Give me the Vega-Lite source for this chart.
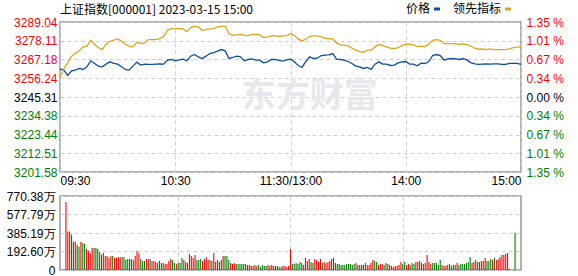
{
  "$schema": "https://vega.github.io/schema/vega-lite/v6.json",
  "background": "white",
  "padding": {"left": 5, "top": 2, "right": 0, "bottom": 0},
  "spacing": 24,
  "bounds": "flush",
  "datasets": {
    "line": [
      {"m":0,"p":3261.76,"l":3256.73},{"m":2,"p":3260.99,"l":3261.95},{"m":4,"p":3257.89,"l":3265.24},{"m":6,"p":3260.60,"l":3269.11},
      {"m":8,"p":3260.99,"l":3270.66},{"m":10,"p":3261.95,"l":3272.21},{"m":12,"p":3261.37,"l":3274.53},{"m":14,"p":3262.92,"l":3274.92},
      {"m":16,"p":3266.40,"l":3278.40},{"m":18,"p":3264.86,"l":3276.08},{"m":20,"p":3263.31,"l":3274.14},{"m":22,"p":3262.92,"l":3272.98},
      {"m":24,"p":3264.47,"l":3276.08},{"m":26,"p":3265.82,"l":3277.82},{"m":28,"p":3264.86,"l":3278.40},{"m":30,"p":3264.47,"l":3279.17},
      {"m":32,"p":3262.92,"l":3278.01},{"m":34,"p":3261.37,"l":3276.08},{"m":36,"p":3260.99,"l":3274.92},{"m":38,"p":3263.31,"l":3274.53},
      {"m":40,"p":3265.63,"l":3277.24},{"m":42,"p":3263.89,"l":3276.46},{"m":44,"p":3264.47,"l":3276.85},{"m":46,"p":3264.28,"l":3278.79},
      {"m":48,"p":3264.28,"l":3278.79},{"m":50,"p":3264.47,"l":3278.79},{"m":52,"p":3264.66,"l":3279.37},{"m":54,"p":3264.47,"l":3280.72},
      {"m":56,"p":3266.79,"l":3284.21},{"m":58,"p":3267.18,"l":3285.17},{"m":60,"p":3266.40,"l":3285.17},{"m":62,"p":3266.98,"l":3285.17},
      {"m":64,"p":3267.37,"l":3284.98},{"m":66,"p":3266.40,"l":3283.43},{"m":68,"p":3269.11,"l":3285.75},{"m":70,"p":3270.08,"l":3286.53},
      {"m":72,"p":3268.73,"l":3286.14},{"m":74,"p":3267.76,"l":3284.21},{"m":76,"p":3269.11,"l":3284.59},{"m":78,"p":3270.66,"l":3284.98},
      {"m":80,"p":3271.24,"l":3285.17},{"m":82,"p":3272.01,"l":3286.14},{"m":84,"p":3272.98,"l":3286.53},{"m":86,"p":3272.21,"l":3286.53},
      {"m":88,"p":3267.76,"l":3282.27},{"m":90,"p":3268.34,"l":3281.30},{"m":92,"p":3269.11,"l":3281.50},{"m":94,"p":3268.73,"l":3281.88},
      {"m":96,"p":3266.40,"l":3281.30},{"m":98,"p":3267.18,"l":3281.11},{"m":100,"p":3267.56,"l":3281.88},{"m":102,"p":3266.79,"l":3281.88},
      {"m":104,"p":3266.79,"l":3281.50},{"m":106,"p":3265.24,"l":3279.95},{"m":108,"p":3265.82,"l":3280.34},{"m":110,"p":3267.18,"l":3280.92},
      {"m":112,"p":3267.18,"l":3281.11},{"m":114,"p":3266.60,"l":3280.72},{"m":116,"p":3266.21,"l":3280.92},{"m":118,"p":3266.98,"l":3281.11},
      {"m":120,"p":3267.37,"l":3282.27},{"m":122,"p":3265.82,"l":3281.11},{"m":124,"p":3263.69,"l":3279.17},{"m":126,"p":3262.53,"l":3278.01},
      {"m":128,"p":3266.02,"l":3278.98},{"m":130,"p":3268.73,"l":3280.72},{"m":132,"p":3267.76,"l":3280.92},{"m":134,"p":3267.95,"l":3280.92},
      {"m":136,"p":3269.50,"l":3280.34},{"m":138,"p":3269.69,"l":3279.56},{"m":140,"p":3269.89,"l":3279.37},{"m":142,"p":3270.66,"l":3279.17},
      {"m":144,"p":3267.37,"l":3276.85},{"m":146,"p":3267.18,"l":3275.50},{"m":148,"p":3266.79,"l":3275.50},{"m":150,"p":3266.02,"l":3275.11},
      {"m":152,"p":3264.86,"l":3273.76},{"m":154,"p":3263.31,"l":3272.60},{"m":156,"p":3262.92,"l":3271.82},{"m":158,"p":3261.95,"l":3271.43},
      {"m":160,"p":3262.53,"l":3272.60},{"m":162,"p":3261.37,"l":3272.60},{"m":164,"p":3264.47,"l":3274.53},{"m":166,"p":3265.82,"l":3275.88},
      {"m":168,"p":3264.47,"l":3275.30},{"m":170,"p":3264.47,"l":3274.53},{"m":172,"p":3263.69,"l":3273.76},{"m":174,"p":3263.89,"l":3273.56},
      {"m":176,"p":3265.24,"l":3274.14},{"m":178,"p":3265.82,"l":3275.30},{"m":180,"p":3266.02,"l":3276.08},{"m":182,"p":3264.47,"l":3276.08},
      {"m":184,"p":3264.47,"l":3275.69},{"m":186,"p":3263.50,"l":3274.72},{"m":188,"p":3265.05,"l":3274.92},{"m":190,"p":3264.86,"l":3274.72},
      {"m":192,"p":3266.02,"l":3276.08},{"m":194,"p":3269.50,"l":3278.40},{"m":196,"p":3270.08,"l":3278.79},{"m":198,"p":3269.50,"l":3278.40},
      {"m":200,"p":3266.79,"l":3276.46},{"m":202,"p":3267.56,"l":3276.46},{"m":204,"p":3267.76,"l":3276.46},{"m":206,"p":3267.56,"l":3276.27},
      {"m":208,"p":3267.18,"l":3276.08},{"m":210,"p":3267.76,"l":3276.27},{"m":212,"p":3266.79,"l":3275.88},{"m":214,"p":3265.24,"l":3274.92},
      {"m":216,"p":3264.66,"l":3273.76},{"m":218,"p":3264.28,"l":3273.17},{"m":220,"p":3264.47,"l":3273.37},{"m":222,"p":3264.66,"l":3272.98},
      {"m":224,"p":3264.47,"l":3273.37},{"m":226,"p":3264.66,"l":3272.98},{"m":228,"p":3264.66,"l":3272.98},{"m":230,"p":3264.28,"l":3272.98},
      {"m":232,"p":3264.28,"l":3272.98},{"m":234,"p":3264.86,"l":3273.37},{"m":236,"p":3264.86,"l":3274.14},{"m":238,"p":3264.86,"l":3274.34},
      {"m":240,"p":3264.28,"l":3274.72}
    ],
    "vol": [
      {"m":0,"v":708,"c":"r"},{"m":1,"v":402,"c":"r"},{"m":2,"v":402,"c":"g"},{"m":3,"v":368,"c":"g"},{"m":4,"v":295,"c":"r"},
      {"m":5,"v":295,"c":"r"},{"m":6,"v":264,"c":"g"},{"m":7,"v":243,"c":"g"},{"m":8,"v":292,"c":"r"},{"m":9,"v":281,"c":"g"},
      {"m":10,"v":271,"c":"g"},{"m":11,"v":219,"c":"r"},{"m":12,"v":201,"c":"r"},{"m":13,"v":177,"c":"r"},{"m":14,"v":229,"c":"r"},
      {"m":15,"v":229,"c":"g"},{"m":16,"v":229,"c":"g"},{"m":17,"v":219,"c":"g"},{"m":18,"v":187,"c":"r"},{"m":19,"v":160,"c":"g"},
      {"m":20,"v":177,"c":"g"},{"m":21,"v":146,"c":"r"},{"m":22,"v":146,"c":"r"},{"m":23,"v":125,"c":"r"},{"m":24,"v":146,"c":"r"},
      {"m":25,"v":146,"c":"g"},{"m":26,"v":125,"c":"r"},{"m":27,"v":125,"c":"r"},{"m":28,"v":135,"c":"r"},{"m":29,"v":135,"c":"r"},
      {"m":30,"v":135,"c":"g"},{"m":31,"v":135,"c":"g"},{"m":32,"v":104,"c":"g"},{"m":33,"v":114,"c":"g"},{"m":34,"v":114,"c":"g"},
      {"m":35,"v":111,"c":"r"},{"m":36,"v":104,"c":"g"},{"m":37,"v":146,"c":"r"},{"m":38,"v":198,"c":"r"},{"m":39,"v":174,"c":"r"},
      {"m":40,"v":114,"c":"g"},{"m":41,"v":94,"c":"g"},{"m":42,"v":94,"c":"g"},{"m":43,"v":114,"c":"r"},{"m":44,"v":114,"c":"r"},
      {"m":45,"v":114,"c":"g"},{"m":46,"v":94,"c":"r"},{"m":47,"v":94,"c":"r"},{"m":48,"v":83,"c":"g"},{"m":49,"v":73,"c":"r"},
      {"m":50,"v":94,"c":"g"},{"m":51,"v":73,"c":"g"},{"m":52,"v":73,"c":"g"},{"m":53,"v":63,"c":"r"},{"m":54,"v":63,"c":"r"},
      {"m":55,"v":94,"c":"r"},{"m":56,"v":114,"c":"r"},{"m":57,"v":104,"c":"g"},{"m":58,"v":73,"c":"g"},{"m":59,"v":63,"c":"r"},
      {"m":60,"v":73,"c":"g"},{"m":61,"v":73,"c":"g"},{"m":62,"v":125,"c":"g"},{"m":63,"v":104,"c":"r"},{"m":64,"v":83,"c":"g"},
      {"m":65,"v":73,"c":"r"},{"m":66,"v":167,"c":"r"},{"m":67,"v":146,"c":"r"},{"m":68,"v":125,"c":"r"},{"m":69,"v":156,"c":"r"},
      {"m":70,"v":104,"c":"g"},{"m":71,"v":104,"c":"g"},{"m":72,"v":114,"c":"g"},{"m":73,"v":94,"c":"r"},{"m":74,"v":114,"c":"r"},
      {"m":75,"v":135,"c":"r"},{"m":76,"v":104,"c":"r"},{"m":77,"v":104,"c":"g"},{"m":78,"v":94,"c":"r"},{"m":79,"v":177,"c":"r"},
      {"m":80,"v":83,"c":"g"},{"m":81,"v":104,"c":"r"},{"m":82,"v":83,"c":"r"},{"m":83,"v":104,"c":"g"},{"m":84,"v":146,"c":"r"},
      {"m":85,"v":146,"c":"g"},{"m":86,"v":146,"c":"g"},{"m":87,"v":104,"c":"g"},{"m":88,"v":73,"c":"r"},{"m":89,"v":63,"c":"r"},
      {"m":90,"v":73,"c":"r"},{"m":91,"v":63,"c":"g"},{"m":92,"v":63,"c":"g"},{"m":93,"v":63,"c":"g"},{"m":94,"v":63,"c":"g"},
      {"m":95,"v":63,"c":"g"},{"m":96,"v":63,"c":"g"},{"m":97,"v":52,"c":"r"},{"m":98,"v":52,"c":"r"},{"m":99,"v":42,"c":"r"},
      {"m":100,"v":42,"c":"r"},{"m":101,"v":52,"c":"g"},{"m":102,"v":42,"c":"r"},{"m":103,"v":52,"c":"g"},{"m":104,"v":31,"c":"g"},
      {"m":105,"v":52,"c":"g"},{"m":106,"v":42,"c":"g"},{"m":107,"v":42,"c":"g"},{"m":108,"v":52,"c":"r"},{"m":109,"v":42,"c":"r"},
      {"m":110,"v":52,"c":"r"},{"m":111,"v":42,"c":"g"},{"m":112,"v":42,"c":"g"},{"m":113,"v":42,"c":"g"},{"m":114,"v":31,"c":"g"},
      {"m":115,"v":31,"c":"g"},{"m":116,"v":42,"c":"r"},{"m":117,"v":42,"c":"r"},{"m":118,"v":31,"c":"r"},{"m":119,"v":42,"c":"r"},
      {"m":120,"v":219,"c":"r"},{"m":121,"v":63,"c":"g"},{"m":122,"v":63,"c":"g"},{"m":123,"v":73,"c":"g"},{"m":124,"v":63,"c":"g"},
      {"m":125,"v":83,"c":"g"},{"m":126,"v":73,"c":"g"},{"m":127,"v":52,"c":"r"},{"m":128,"v":125,"c":"r"},{"m":129,"v":94,"c":"r"},
      {"m":130,"v":114,"c":"r"},{"m":131,"v":83,"c":"g"},{"m":132,"v":73,"c":"g"},{"m":133,"v":114,"c":"r"},{"m":134,"v":104,"c":"r"},
      {"m":135,"v":83,"c":"r"},{"m":136,"v":114,"c":"r"},{"m":137,"v":73,"c":"g"},{"m":138,"v":83,"c":"r"},{"m":139,"v":73,"c":"r"},
      {"m":140,"v":83,"c":"r"},{"m":141,"v":94,"c":"r"},{"m":142,"v":114,"c":"g"},{"m":143,"v":125,"c":"g"},{"m":144,"v":73,"c":"r"},
      {"m":145,"v":63,"c":"g"},{"m":146,"v":63,"c":"g"},{"m":147,"v":52,"c":"g"},{"m":148,"v":52,"c":"g"},{"m":149,"v":52,"c":"g"},
      {"m":150,"v":63,"c":"g"},{"m":151,"v":63,"c":"g"},{"m":152,"v":63,"c":"g"},{"m":153,"v":52,"c":"g"},{"m":154,"v":63,"c":"g"},
      {"m":155,"v":73,"c":"r"},{"m":156,"v":52,"c":"g"},{"m":157,"v":52,"c":"g"},{"m":158,"v":52,"c":"r"},{"m":159,"v":52,"c":"r"},
      {"m":160,"v":73,"c":"g"},{"m":161,"v":52,"c":"r"},{"m":162,"v":52,"c":"r"},{"m":163,"v":73,"c":"r"},{"m":164,"v":104,"c":"r"},
      {"m":165,"v":94,"c":"g"},{"m":166,"v":83,"c":"g"},{"m":167,"v":52,"c":"r"},{"m":168,"v":62,"c":"r"},{"m":169,"v":62,"c":"r"},
      {"m":170,"v":52,"c":"g"},{"m":171,"v":73,"c":"g"},{"m":172,"v":62,"c":"r"},{"m":173,"v":52,"c":"r"},{"m":174,"v":42,"c":"g"},
      {"m":175,"v":31,"c":"r"},{"m":176,"v":42,"c":"r"},{"m":177,"v":42,"c":"r"},{"m":178,"v":52,"c":"r"},{"m":179,"v":83,"c":"r"},
      {"m":180,"v":62,"c":"g"},{"m":181,"v":83,"c":"g"},{"m":182,"v":52,"c":"r"},{"m":183,"v":62,"c":"r"},{"m":184,"v":52,"c":"g"},
      {"m":185,"v":73,"c":"g"},{"m":186,"v":62,"c":"g"},{"m":187,"v":83,"c":"r"},{"m":188,"v":83,"c":"r"},{"m":189,"v":94,"c":"g"},
      {"m":190,"v":73,"c":"r"},{"m":191,"v":62,"c":"g"},{"m":192,"v":73,"c":"r"},{"m":193,"v":156,"c":"r"},{"m":194,"v":83,"c":"r"},
      {"m":195,"v":62,"c":"r"},{"m":196,"v":73,"c":"g"},{"m":197,"v":73,"c":"g"},{"m":198,"v":73,"c":"g"},{"m":199,"v":52,"c":"g"},
      {"m":200,"v":104,"c":"g"},{"m":201,"v":52,"c":"r"},{"m":202,"v":42,"c":"r"},{"m":203,"v":42,"c":"r"},{"m":204,"v":52,"c":"g"},
      {"m":205,"v":62,"c":"g"},{"m":206,"v":42,"c":"r"},{"m":207,"v":52,"c":"g"},{"m":208,"v":52,"c":"g"},{"m":209,"v":73,"c":"r"},
      {"m":210,"v":52,"c":"g"},{"m":211,"v":62,"c":"g"},{"m":212,"v":62,"c":"g"},{"m":213,"v":62,"c":"g"},{"m":214,"v":73,"c":"g"},
      {"m":215,"v":83,"c":"g"},{"m":216,"v":135,"c":"g"},{"m":217,"v":73,"c":"r"},{"m":218,"v":83,"c":"r"},{"m":219,"v":104,"c":"g"},
      {"m":220,"v":83,"c":"r"},{"m":221,"v":83,"c":"r"},{"m":222,"v":94,"c":"g"},{"m":223,"v":94,"c":"r"},{"m":224,"v":125,"c":"r"},
      {"m":225,"v":94,"c":"g"},{"m":226,"v":94,"c":"g"},{"m":227,"v":114,"c":"g"},{"m":228,"v":104,"c":"r"},{"m":229,"v":125,"c":"g"},
      {"m":230,"v":104,"c":"r"},{"m":231,"v":114,"c":"r"},{"m":232,"v":135,"c":"r"},{"m":233,"v":156,"c":"r"},{"m":234,"v":156,"c":"r"},
      {"m":235,"v":170,"c":"r"},{"m":236,"v":177,"c":"r"},{"m":237,"v":10,"c":"r"},{"m":238,"v":0,"c":"r"},{"m":239,"v":0,"c":"r"},
      {"m":240,"v":388,"c":"g"}
    ],
    "mark": [{"m":130,"p":3245.31,"t":"东方财富"}]
  },
  "vconcat": [
    {
      "width": 461,
      "height": 150,
      "title": {"text": "上证指数[000001] 2023-03-15 15:00", "anchor": "start", "frame": "group", "font": "Noto Sans CJK SC", "fontSize": 12, "fontWeight": "normal", "color": "#000000", "offset": -14},
      "layer": [
        {
          "data": {"name": "mark"},
          "mark": {"type": "text", "font": "Noto Sans CJK SC", "fontSize": 34, "fontWeight": "bold", "color": "#e8e8ec"},
          "encoding": {
            "x": {"field": "m", "type": "quantitative", "scale": {"domain": [0, 240], "nice": false, "zero": false},
                  "axis": {"values": [0,60,120,180,240], "labelExpr": "datum.value==0?'09:30':datum.value==60?'10:30':datum.value==120?'11:30/13:00':datum.value==180?'14:00':'15:00'", "labelFlush": true, "labelOverlap": false, "labelPadding": 3, "grid": true, "title": null}},
            "y": {"field": "p", "type": "quantitative", "scale": {"domain": [3201.58, 3289.04], "nice": false, "zero": false}, "axis": null},
            "text": {"field": "t"}
          }
        },
        {
          "data": {"name": "line"},
          "mark": {"type": "line", "strokeWidth": 1.3},
          "encoding": {
            "x": {"field": "m", "type": "quantitative", "scale": {"domain": [0, 240], "nice": false, "zero": false},
                  "axis": {"values": [0,60,120,180,240], "labelExpr": "datum.value==0?'09:30':datum.value==60?'10:30':datum.value==120?'11:30/13:00':datum.value==180?'14:00':'15:00'", "labelFlush": true, "labelOverlap": false, "labelPadding": 3, "grid": true, "title": null}},
            "y": {"field": "p", "type": "quantitative", "scale": {"domain": [3201.58, 3289.04], "nice": false, "zero": false},
                  "axis": {"orient": "left", "values": [3201.58,3212.51,3223.44,3234.38,3245.31,3256.24,3267.18,3278.11,3289.04], "format": ".2f", "labelPadding": 3, "labelOverlap": false, "grid": true, "title": null,
                           "labelColor": {"condition": [{"test": "datum.value > 3245.32", "value": "#ff0000"}, {"test": "datum.value < 3245.30", "value": "#008000"}], "value": "#000000"}}},
            "color": {"datum": "价格", "type": "nominal", "scale": {"domain": ["价格", "领先指标"], "range": ["#0b4e9e", "#e1a420"]},
                      "legend": {"orient": "none", "legendX": 371, "legendY": -19, "direction": "horizontal", "title": null, "labelFont": "Noto Sans CJK SC", "labelFontSize": 12, "labelColor": "#000000", "symbolSize": 36, "symbolStrokeWidth": 3, "labelAlign": "right", "labelOffset": -13, "columnPadding": 6}}
          }
        },
        {
          "data": {"name": "line"},
          "mark": {"type": "line", "strokeWidth": 1.3},
          "encoding": {
            "x": {"field": "m", "type": "quantitative"},
            "y": {"field": "l", "type": "quantitative", "scale": {"domain": [3201.58, 3289.04], "nice": false, "zero": false},
                  "axis": {"orient": "right", "values": [3201.58,3212.51,3223.44,3234.38,3245.31,3256.24,3267.18,3278.11,3289.04], "labelExpr": "format(abs(datum.value-3245.31)/3245.31*100,'.2f')+' %'", "labelPadding": 5, "labelOverlap": false, "grid": false, "title": null,
                           "labelColor": {"condition": [{"test": "datum.value > 3245.32", "value": "#ff0000"}, {"test": "datum.value < 3245.30", "value": "#008000"}], "value": "#000000"}}},
            "color": {"datum": "领先指标", "type": "nominal"}
          }
        }
      ],
      "resolve": {"axis": {"y": "independent"}}
    },
    {
      "width": 461,
      "height": 74,
      "data": {"name": "vol"},
      "mark": {"type": "bar", "width": 1.1},
      "encoding": {
        "x": {"field": "m", "type": "quantitative", "scale": {"domain": [-0.5, 240.5], "nice": false, "zero": false},
              "axis": {"values": [60,120,180], "labels": false, "grid": true, "title": null}},
        "y": {"field": "v", "type": "quantitative", "scale": {"domain": [0, 770.38], "nice": false},
              "axis": {"values": [0,192.6,385.19,577.79,770.38], "labelExpr": "datum.value==0?'0':format(datum.value,'.2f')+'万'", "labelPadding": 5, "labelOverlap": false, "grid": true, "title": null}},
        "color": {"field": "c", "type": "nominal", "scale": {"domain": ["r","g"], "range": ["#ff0000","#008000"]}, "legend": null}
      }
    }
  ],
  "resolve": {"scale": {"x": "independent", "y": "independent", "color": "independent"}},
  "config": {
    "font": "Liberation Sans",
    "view": {"stroke": "#999999", "strokeWidth": 1.5},
    "axis": {"labelFont": "Liberation Sans", "labelFontSize": 12, "labelColor": "#000000", "ticks": false, "domain": false, "gridColor": "#d0d0d0", "gridDash": [4, 3], "gridWidth": 1}
  }
}
